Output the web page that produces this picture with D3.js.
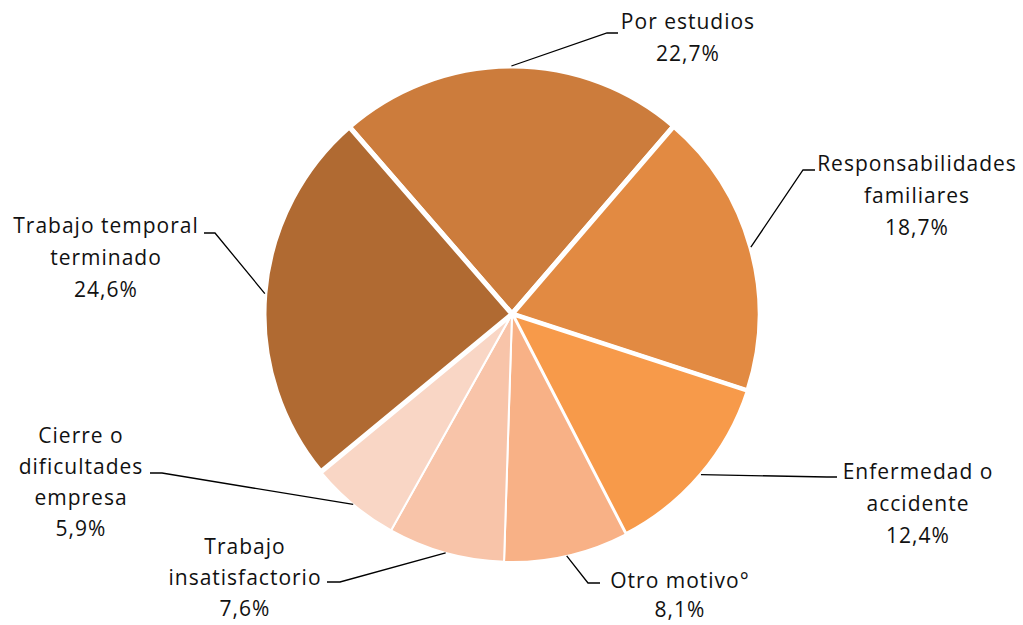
<!DOCTYPE html>
<html>
<head>
<meta charset="utf-8">
<script src="https://cdn.jsdelivr.net/npm/d3@7"></script>
<style>
  body { margin: 0; background: #fff; }
  text { font-family: "Open Sans", sans-serif; font-size: 21px; letter-spacing: 1px; fill: #111; }
</style>
</head>
<body>
<svg id="pie" width="1023" height="625"></svg>
<script>
// data, clockwise from the top
const labels = [
  ["Por estudios"],
  ["Responsabilidades", "familiares"],
  ["Enfermedad  o", "accidente"],
  ["Otro motivo°"],
  ["Trabajo", "insatisfactorio"],
  ["Cierre o", "dificultades", "empresa"],
  ["Trabajo temporal", "terminado"]
];
const values = [22.7, 18.7, 12.4, 8.1, 7.6, 5.9, 24.6];
const colors = ["#cc7c3c", "#e28a42", "#f79a4a", "#f8b186", "#f8c4a9", "#f9d6c5", "#b06a32"];

// label layout: text block centre, first baseline, line gap, elbow and end of leader line
const labelPos = [
  { cx: 688, y: 29, gap: 32, elbow: [607, 33], end: [618, 33] },
  { cx: 917, y: 171, gap: 32, elbow: [803, 170], end: [815, 170] },
  { cx: 918, y: 479, gap: 32, elbow: [827, 477], end: [837, 477] },
  { cx: 680, y: 588, gap: 29, elbow: [588, 583], end: [600, 583] },
  { cx: 245, y: 554, gap: 31, elbow: [340, 582], end: [327, 582] },
  { cx: 81, y: 443, gap: 31, elbow: [162, 473], end: [150, 473] },
  { cx: 106, y: 233, gap: 32, elbow: [215, 233], end: [204, 233] }
];
const strokeW = [5, 5, 4, 2, 2, 2, 5];

const cx = 512, cy = 314, radius = 248;
const svg = d3.select("#pie");
const g = svg.append("g").attr("transform", `translate(${cx}, ${cy})`);

const start = -41 * Math.PI / 180;
const pie = d3.pie().sort(null).startAngle(start).endAngle(start + 2 * Math.PI);
const arcs = pie(values);
const arc = d3.arc().innerRadius(0).outerRadius(radius);

g.selectAll("path.slice")
  .data(arcs)
  .join("path")
  .attr("class", "slice")
  .attr("d", arc)
  .attr("fill", (d, i) => colors[i])
  .attr("stroke", "#fff")
  .attr("stroke-width", (d, i) => strokeW[i])
  .attr("stroke-linejoin", "miter");

// leader lines start on the rim at the slice middle
arcs.forEach((d, i) => {
  let mid = (d.startAngle + d.endAngle) / 2;
  let p0 = [cx + radius * Math.sin(mid), cy - radius * Math.cos(mid)];
  let lp = labelPos[i];
  svg.append("polyline")
    .attr("points", [p0, lp.elbow, lp.end].map((p) => p.join(",")).join(" "))
    .attr("fill", "none")
    .attr("stroke", "#000")
    .attr("stroke-width", 1.3);

  let lines = labels[i].concat([values[i].toFixed(1).replace(".", ",") + "%"]);
  let t = svg.append("text").attr("text-anchor", "middle");
  lines.forEach((s, k) => {
    t.append("tspan")
      .attr("x", lp.cx)
      .attr("y", lp.y + k * lp.gap)
      .text(s);
  });
});
</script>
</body>
</html>
